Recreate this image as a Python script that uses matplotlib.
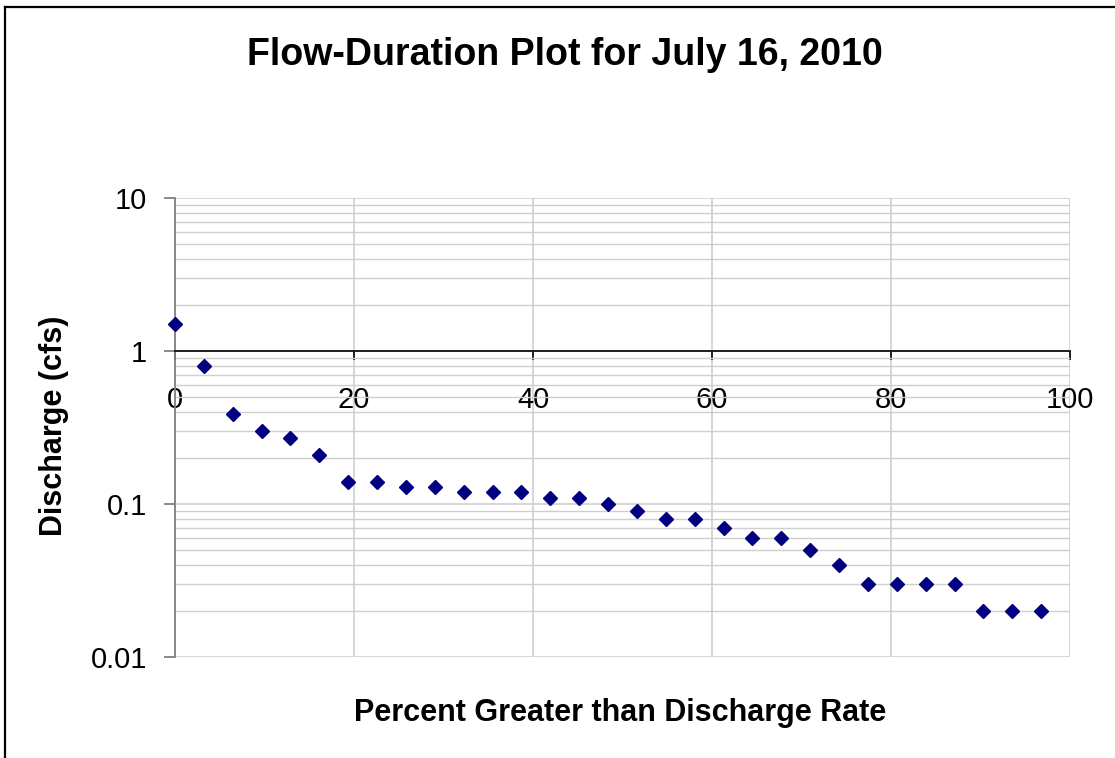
import matplotlib
matplotlib.use("Agg")
import matplotlib.pyplot as plt
from matplotlib.lines import Line2D
from matplotlib.ticker import LogLocator, FixedLocator, NullFormatter, FuncFormatter

plt.rcParams['font.family'] = ['Liberation Sans', 'DejaVu Sans']

title = "Flow-Duration Plot for July 16, 2010"
xlabel = "Percent Greater than Discharge Rate"
ylabel = "Discharge (cfs)"

percent = [0.0, 3.23, 6.45, 9.68, 12.90, 16.13, 19.35, 22.58, 25.81, 29.03,
           32.26, 35.48, 38.71, 41.94, 45.16, 48.39, 51.61, 54.84, 58.06, 61.29,
           64.52, 67.74, 70.97, 74.19, 77.42, 80.65, 83.87, 87.10, 90.32, 93.55,
           96.77]
discharge = [1.5, 0.8, 0.39, 0.3, 0.27, 0.21, 0.14, 0.14, 0.13, 0.13,
             0.12, 0.12, 0.12, 0.11, 0.11, 0.10, 0.09, 0.08, 0.08, 0.07,
             0.06, 0.06, 0.05, 0.04, 0.03, 0.03, 0.03, 0.03, 0.02, 0.02,
             0.02]
xticks = [0, 20, 40, 60, 80, 100]
yticks = [0.01, 0.1, 1, 10]
ytick_labels = ["0.01", "0.1", "1", "10"]

W, H = 1115, 758
fig = plt.figure(figsize=(W / 100, H / 100), dpi=100)
ax = fig.add_axes([175 / W, 1 - 657 / H, (1070 - 175) / W, (657 - 198) / H])

ax.set_yscale('log')
ax.set_xlim(0, 100)
ax.set_ylim(0.01, 10)

grid_c = '#cfcfcf'
ax.set_axisbelow(True)
ax.yaxis.set_major_locator(FixedLocator(yticks))
ax.yaxis.set_major_formatter(FuncFormatter(lambda v, p: ytick_labels[yticks.index(v)] if v in yticks else ""))
ax.yaxis.set_minor_locator(LogLocator(base=10, subs=range(2, 10)))
ax.yaxis.set_minor_formatter(NullFormatter())
ax.xaxis.set_major_locator(FixedLocator(xticks))

ax.grid(True, which='major', axis='both', color=grid_c, lw=1.2)
ax.grid(True, which='minor', axis='y', color=grid_c, lw=1.0)

for s in ['top', 'right']:
    ax.spines[s].set_visible(False)
ax.spines['left'].set_color('#808080')
ax.spines['left'].set_linewidth(1.3)
ax.spines['bottom'].set_position(('data', 1))
ax.spines['bottom'].set_color('black')
ax.spines['bottom'].set_linewidth(1.2)

ax.tick_params(axis='y', which='major', direction='out', length=8, width=1.3,
               color='#808080', labelsize=21, pad=12)
ax.tick_params(axis='y', which='minor', length=0)
ax.tick_params(axis='x', which='major', direction='out', length=6.5, width=1.2,
               color='black', labelsize=21, pad=19)

ax.plot(percent, discharge, linestyle='none', marker='D', markersize=7.2,
        color='#000080', markeredgecolor='#000080', zorder=5, clip_on=False)

fig.text(565 / W, 1 - 55 / H, title, ha='center', va='center',
         fontsize=27, fontweight='bold')
fig.text(620 / W, 1 - 713 / H, xlabel, ha='center', va='center',
         fontsize=22, fontweight='bold')
fig.text(54 / W, 1 - 426 / H, ylabel, ha='center', va='center',
         fontsize=22, fontweight='bold', rotation=90)

# outer chart border (left and top visible)
fig.add_artist(Line2D([4.5 / W, 4.5 / W], [0, 1 - 6.5 / H], transform=fig.transFigure,
                      color='black', lw=1.6))
fig.add_artist(Line2D([4.5 / W, 1], [1 - 6.5 / H, 1 - 6.5 / H], transform=fig.transFigure,
                      color='black', lw=1.6))

fig.savefig('out.png', dpi=100)
